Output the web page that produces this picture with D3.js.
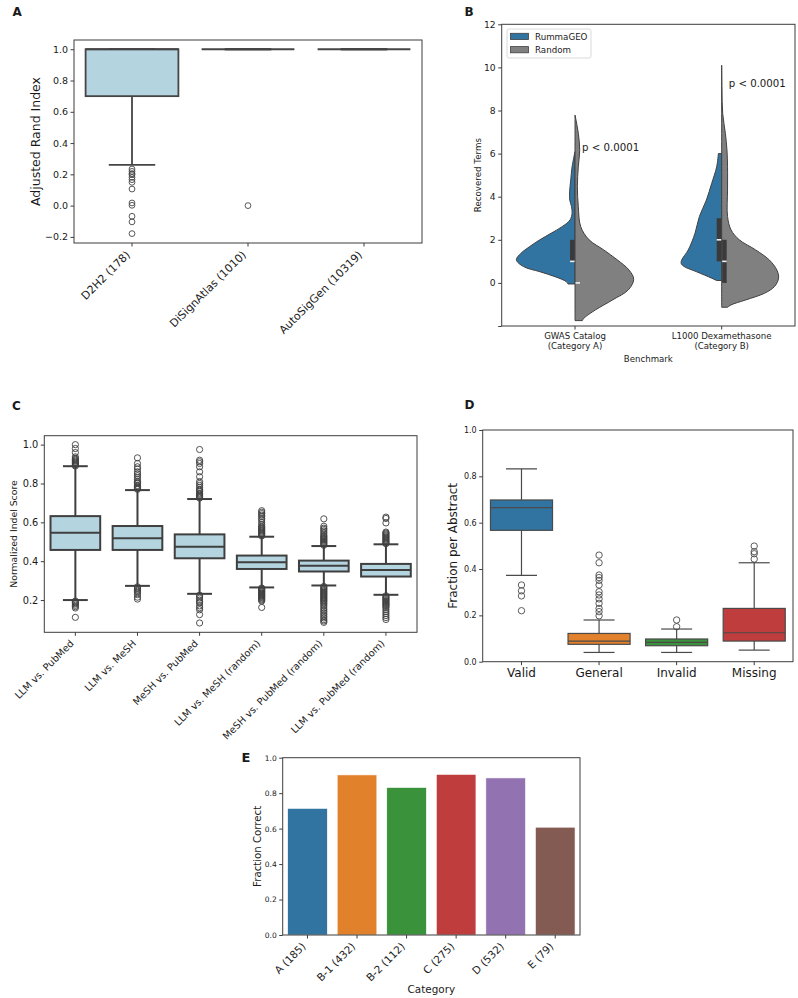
<!DOCTYPE html>
<html><head><meta charset="utf-8">
<script src="https://cdn.jsdelivr.net/npm/d3@7"></script>
<style>
body{margin:0;background:#fff}
svg{display:block}
text{font-family:"DejaVu Sans","Liberation Sans",sans-serif;fill:#1a1a1a}
</style>
</head><body>
<svg id="fig" width="798" height="998"></svg>
<script>
// ================= DATA =================
// Panel A
const aCategories = ["D2H2 (178)", "DiSignAtlas (1010)", "AutoSigGen (10319)"];
const aQ1 = [0.70, 1.0, 1.0];
const aMedian = [1.0, 1.0, 1.0];
const aQ3 = [1.0, 1.0, 1.0];
const aWhiskerLow = [0.26, 1.0, 1.0];
const aWhiskerHigh = [1.0, 1.0, 1.0];
const aOutliers = [[0.234,0.219,0.205,0.198,0.181,0.166,0.149,0.106,0.017,0.002,-0.068,-0.104,-0.179],[0.0],[]];
const aYTicks = [-0.2, 0.0, 0.2, 0.4, 0.6, 0.8, 1.0];

// Panel B
const bBenchmarks = [["GWAS Catalog","(Category A)"], ["L1000 Dexamethasone","(Category B)"]];
const bSeries = ["RummaGEO", "Random"];
// [value, relative density width]
const bGwasRumma = [[6.09,0],[5.39,0.05],[4.77,0.073],[4.31,0.09],[3.85,0.09],[3.54,0.06],[3.23,0.05],[2.92,0.085],[2.61,0.22],[2.3,0.41],[2.0,0.60],[1.69,0.77],[1.38,0.92],[1.07,1.0],[0.76,0.88],[0.52,0.60],[0.29,0.34],[0.06,0.15],[-0.05,0.12]];
const bGwasRandom = [[7.79,0],[6.94,0.056],[6.17,0.08],[5.39,0.056],[4.47,0.04],[3.54,0.056],[2.61,0.097],[2.0,0.24],[1.53,0.49],[1.07,0.72],[0.6,0.92],[0.17,1.0],[-0.32,0.91],[-0.79,0.64],[-1.25,0.35],[-1.64,0.15],[-1.75,0.125]];
const bL1000Rumma = [[6.0,0.056],[5.39,0.085],[4.62,0.17],[3.85,0.26],[3.08,0.38],[2.3,0.455],[1.53,0.57],[1.07,0.68],[0.9,0.69],[0.76,0.64],[0.52,0.43],[0.22,0.17],[0.11,0.085]];
const bL1000Random = [[10.1,0],[9.0,0.004],[7.87,0.017],[6.94,0.063],[6.17,0.09],[5.39,0.1],[4.31,0.1],[3.08,0.1],[2.46,0.16],[2.0,0.30],[1.53,0.58],[1.07,0.81],[0.6,0.94],[0.22,0.97],[-0.17,0.90],[-0.48,0.73],[-0.79,0.41],[-1.02,0.16],[-1.13,0.10]];
const bBoxQ1 = [[1, 0], [1, 0]];
const bBoxMedian = [[1, 0], [2, 1]];
const bBoxQ3 = [[2, 0], [3, 2]];
const bPLabels = ["p < 0.0001", "p < 0.0001"];
const bPLabelValue = [6.12, 9.1];
const bYTicks = [-2, 0, 2, 4, 6, 8, 10, 12];

// Panel C
const cCategories = ["LLM vs. PubMed", "LLM vs. MeSH", "MeSH vs. PubMed", "LLM vs. MeSH (random)", "MeSH vs. PubMed (random)", "LLM vs. PubMed (random)"];
const cQ1 = [0.458, 0.458, 0.415, 0.360, 0.347, 0.321];
const cMedian = [0.547, 0.518, 0.475, 0.395, 0.376, 0.355];
const cQ3 = [0.632, 0.581, 0.538, 0.429, 0.403, 0.386];
const cWhiskerLow = [0.200, 0.273, 0.232, 0.265, 0.275, 0.227];
const cWhiskerHigh = [0.889, 0.766, 0.720, 0.526, 0.478, 0.487];
const cOutliers = [
  [0.89,0.895,0.90,0.905,0.91,0.915,0.92,0.925,0.93,0.937,0.959,0.98,1.0, 0.195,0.19,0.185,0.18,0.173,0.166,0.159,0.111],
  [0.77,0.775,0.78,0.785,0.79,0.80,0.805,0.81,0.82,0.83,0.84,0.85,0.86,0.875,0.886,0.903,0.932, 0.268,0.262,0.256,0.25,0.245,0.237,0.228,0.215,0.205],
  [0.725,0.73,0.735,0.74,0.745,0.75,0.76,0.765,0.77,0.78,0.79,0.80,0.81,0.835,0.86,0.886,0.903,0.912,0.92,0.975, 0.225,0.22,0.21,0.20,0.19,0.185,0.17,0.16,0.15,0.125,0.082],
  [0.53,0.535,0.54,0.545,0.55,0.555,0.56,0.565,0.57,0.575,0.58,0.59,0.60,0.612,0.62,0.63,0.637,0.645,0.652,0.66, 0.262,0.258,0.254,0.25,0.246,0.242,0.238,0.234,0.23,0.226,0.222,0.218,0.214,0.21,0.205,0.20,0.195,0.162],
  [0.482,0.487,0.492,0.497,0.502,0.507,0.512,0.517,0.522,0.527,0.532,0.54,0.548,0.556,0.564,0.57,0.58,0.618, 0.27,0.265,0.26,0.255,0.25,0.245,0.24,0.235,0.23,0.225,0.22,0.215,0.21,0.205,0.20,0.195,0.19,0.183,0.176,0.168,0.159,0.15,0.142,0.133,0.125,0.116,0.108,0.099,0.092,0.085],
  [0.49,0.495,0.50,0.505,0.51,0.515,0.52,0.525,0.53,0.535,0.54,0.545,0.55,0.597,0.62,0.627, 0.222,0.217,0.212,0.207,0.202,0.197,0.192,0.187,0.182,0.177,0.172,0.167,0.16,0.15,0.14,0.13,0.12,0.11,0.10]
];
const cYTicks = [0.2, 0.4, 0.6, 0.8, 1.0];

// Panel D
const dCategories = ["Valid", "General", "Invalid", "Missing"];
const dQ1 = [0.567, 0.075, 0.069, 0.089];
const dMedian = [0.665, 0.089, 0.083, 0.125];
const dQ3 = [0.698, 0.122, 0.098, 0.230];
const dWhiskerLow = [0.373, 0.040, 0.040, 0.050];
const dWhiskerHigh = [0.832, 0.180, 0.141, 0.427];
const dOutliers = [[0.331,0.306,0.284,0.22],[0.46,0.427,0.374,0.363,0.351,0.331,0.302,0.288,0.271,0.252,0.23,0.216,0.198],[0.18,0.151],[0.499,0.475,0.466,0.443]];
const dYTicks = [0.0, 0.2, 0.4, 0.6, 0.8, 1.0];

// Panel E
const eCategories = ["A (185)", "B-1 (432)", "B-2 (112)", "C (275)", "D (532)", "E (79)"];
const eFractionCorrect = [0.714, 0.903, 0.832, 0.906, 0.886, 0.608];
const eYTicks = [0.0, 0.2, 0.4, 0.6, 0.8, 1.0];

const palette = ["#3274a1", "#e1812c", "#3a923a", "#c03d3e", "#9372b2", "#845b53"];
const lightBlue = "#b4d5e0";
const grayViolin = "#808080";

// ================= HELPERS =================
const svg = d3.select("#fig");
const AX = "#3d3d3d";
const fmt1 = d3.format(".1f");

function frame(x0, y0, x1, y1) {
  svg.append("rect").attr("x", x0).attr("y", y0).attr("width", x1 - x0).attr("height", y1 - y0)
    .attr("fill", "none").attr("stroke", AX).attr("stroke-width", 1);
}
function yAxis(scale, ticks, x0, fs, format) {
  const g = svg.append("g").attr("transform", `translate(${x0},0)`)
    .call(d3.axisLeft(scale).tickValues(ticks).tickSize(3.5).tickPadding(2.5).tickFormat(format));
  g.select(".domain").remove();
  g.selectAll(".tick line").attr("stroke", AX);
  g.selectAll(".tick text").style("font-size", fs + "px").attr("fill", "#1a1a1a")
    .style("font-family", '"DejaVu Sans",sans-serif');
  return g;
}
function xAxis(scale, y0, fs, rotated) {
  const g = svg.append("g").attr("transform", `translate(0,${y0})`)
    .call(d3.axisBottom(scale).tickSize(3.5).tickPadding(3.5));
  g.select(".domain").remove();
  g.selectAll(".tick line").attr("stroke", AX);
  const t = g.selectAll(".tick text").style("font-size", fs + "px").attr("fill", "#1a1a1a")
    .style("font-family", '"DejaVu Sans",sans-serif');
  if (rotated) {
    const H = fs * 1.1;
    t.attr("x", 0).attr("y", 0).attr("dy", "0.76em").attr("text-anchor", "end")
      .attr("transform", `translate(${-0.707 * H + 1.5},6.5) rotate(-45)`);
  }
  return g;
}
function yLabel(text, cx, cy, fs) {
  svg.append("text").attr("transform", `translate(${cx},${cy}) rotate(-90)`)
    .attr("text-anchor", "middle").attr("dy", "0.35em").style("font-size", fs + "px").text(text);
}
function panelLabel(text, x, y, fs) {
  svg.append("text").attr("x", x).attr("y", y).style("font-size", fs + "px")
    .style("font-weight", "bold").attr("fill", "#000").text(text);
}
function boxplot(x, y, cats, q1, med, q3, lo, hi, outl, fills, lc, lw, r) {
  const g = svg.append("g");
  const bw = x.bandwidth();
  cats.forEach((c, i) => {
    const cx = x(c) + bw / 2, w = bw * 0.8;
    const fill = Array.isArray(fills) ? fills[i] : fills;
    g.append("line").attr("x1", cx).attr("x2", cx).attr("y1", y(q1[i])).attr("y2", y(lo[i]))
      .attr("stroke", lc).attr("stroke-width", lw);
    g.append("line").attr("x1", cx).attr("x2", cx).attr("y1", y(q3[i])).attr("y2", y(hi[i]))
      .attr("stroke", lc).attr("stroke-width", lw);
    [lo[i], hi[i]].forEach(v => g.append("line").attr("x1", cx - w / 4).attr("x2", cx + w / 4)
      .attr("y1", y(v)).attr("y2", y(v)).attr("stroke", lc).attr("stroke-width", lw));
    g.append("rect").attr("x", cx - w / 2).attr("width", w).attr("y", y(q3[i]))
      .attr("height", Math.max(0, y(q1[i]) - y(q3[i]))).attr("fill", fill)
      .attr("stroke", lc).attr("stroke-width", lw);
    g.append("line").attr("x1", cx - w / 2).attr("x2", cx + w / 2).attr("y1", y(med[i])).attr("y2", y(med[i]))
      .attr("stroke", lc).attr("stroke-width", lw);
    g.selectAll(null).data(outl[i]).enter().append("circle")
      .attr("cx", cx).attr("cy", d => y(d)).attr("r", r)
      .attr("fill", "none").attr("stroke", lc).attr("stroke-width", 0.9);
  });
}

// ================= PANEL A =================
{
  const x0 = 74, x1 = 422, y0 = 40, y1 = 243;
  const x = d3.scaleBand().domain(aCategories).range([x0, x1]);
  const y = d3.scaleLinear().domain([-0.239, 1.059]).range([y1, y0]);
  boxplot(x, y, aCategories, aQ1, aMedian, aQ3, aWhiskerLow, aWhiskerHigh, aOutliers, lightBlue, "#454545", 1.8, 2.9);
  frame(x0, y0, x1, y1);
  yAxis(y, aYTicks, x0, 9.5, fmt1);
  xAxis(x, y1, 11, true);
  yLabel("Adjusted Rand Index", 36, (y0 + y1) / 2, 12.5);
  panelLabel("A", 12.5, 16, 12);
}

// ================= PANEL B =================
{
  const x0 = 501.7, x1 = 795, y0 = 24.3, y1 = 326;
  const keys = bBenchmarks.map(d => d.join(" "));
  const x = d3.scaleBand().domain(keys).range([x0, x1]);
  const y = d3.scaleLinear().domain([-2, 12]).range([y1, y0]);
  const wScale = d3.scaleLinear().domain([0, 1]).range([0, x.bandwidth() * 0.4]);
  const dens = [[bGwasRumma, bGwasRandom], [bL1000Rumma, bL1000Random]];
  const colors = [palette[0], grayViolin];
  const g = svg.append("g");
  keys.forEach((k, bi) => {
    const cx = x(k) + x.bandwidth() / 2;
    [0, 1].forEach(si => {
      const side = si === 0 ? -1 : 1;
      const area = d3.area().curve(d3.curveCatmullRom.alpha(0.5))
        .y(d => y(d[0])).x0(cx).x1(d => cx + side * wScale(d[1]));
      g.append("path").datum(dens[bi][si]).attr("d", area)
        .attr("fill", colors[si]).attr("stroke", "#404040").attr("stroke-width", 1).attr("stroke-linejoin", "round");
    });
    [0, 1].forEach(si => {
      const side = si === 0 ? -1 : 1;
      const bx = side < 0 ? cx - 5 : cx + 0.5;
      const top = y(bBoxQ3[bi][si]), bot = y(bBoxQ1[bi][si]);
      if (bot - top > 0) {
        g.append("rect").attr("x", bx).attr("width", 4.5).attr("y", top).attr("height", bot - top)
          .attr("fill", "#3a3a3a");
      }
      g.append("line").attr("x1", bx).attr("x2", bx + 4.5)
        .attr("y1", y(bBoxMedian[bi][si])).attr("y2", y(bBoxMedian[bi][si]))
        .attr("stroke", "#f0f0f0").attr("stroke-width", 1.6);
    });
    svg.append("text").attr("x", cx + 7).attr("y", y(bPLabelValue[bi]))
      .style("font-size", "10.2px").text(bPLabels[bi]);
  });
  frame(x0, y0, x1, y1);
  yAxis(y, bYTicks, x0, 9.2, d => d === -2 ? "" : d3.format("d")(d));
  const xg = xAxis(x, y1, 8.6, false);
  xg.selectAll(".tick text").each(function (d, i) {
    const t = d3.select(this); t.text(null);
    bBenchmarks[i].forEach((line, li) => t.append("tspan").attr("x", 0).attr("dy", li === 0 ? "0.71em" : "1.2em").text(line));
  });
  svg.append("text").attr("x", (x0 + x1) / 2).attr("y", 361.5).attr("text-anchor", "middle")
    .style("font-size", "8.6px").text("Benchmark");
  yLabel("Recovered Terms", 477.5, (y0 + y1) / 2, 8.7);
  // legend
  const lg = svg.append("g");
  lg.append("rect").attr("x", 507).attr("y", 29).attr("width", 84).attr("height", 29).attr("rx", 2)
    .attr("fill", "#fff").attr("fill-opacity", 0.8).attr("stroke", "#d0d0d0").attr("stroke-width", 0.8);
  bSeries.forEach((s, i) => {
    lg.append("rect").attr("x", 510.5).attr("y", 33.3 + i * 13.3).attr("width", 18).attr("height", 6.2)
      .attr("fill", colors[i]).attr("stroke", "#404040").attr("stroke-width", 0.8);
    lg.append("text").attr("x", 535).attr("y", 39.6 + i * 13.3).style("font-size", "8.7px").text(s);
  });
  panelLabel("B", 464.5, 16, 12);
}

// ================= PANEL C =================
{
  const x0 = 44.3, x1 = 417, y0 = 435.7, y1 = 632.3;
  const x = d3.scaleBand().domain(cCategories).range([x0, x1]);
  const y = d3.scaleLinear().domain([0.034, 1.046]).range([y1, y0]);
  boxplot(x, y, cCategories, cQ1, cMedian, cQ3, cWhiskerLow, cWhiskerHigh, cOutliers, lightBlue, "#3f3f3f", 2, 3.1);
  frame(x0, y0, x1, y1);
  yAxis(y, cYTicks, x0, 9.8, fmt1);
  xAxis(x, y1, 9.8, true);
  yLabel("Normalized Indel Score", 14, (y0 + y1) / 2, 9.3);
  panelLabel("C", 12, 410, 12);
}

// ================= PANEL D =================
{
  const x0 = 482.7, x1 = 793, y0 = 430, y1 = 661.7;
  const x = d3.scaleBand().domain(dCategories).range([x0, x1]);
  const y = d3.scaleLinear().domain([0, 1]).range([y1, y0]);
  boxplot(x, y, dCategories, dQ1, dMedian, dQ3, dWhiskerLow, dWhiskerHigh, dOutliers, palette.slice(0, 4), "#4a4a4a", 1.2, 3.2);
  frame(x0, y0, x1, y1);
  yAxis(y, dYTicks, x0, 8, fmt1);
  xAxis(x, y1, 12, false);
  yLabel("Fraction per Abstract", 452.5, (y0 + y1) / 2, 12);
  panelLabel("D", 464.5, 409, 12);
}

// ================= PANEL E =================
{
  const x0 = 282.7, x1 = 580, y0 = 757.7, y1 = 935;
  const x = d3.scaleBand().domain(eCategories).range([x0, x1]);
  const y = d3.scaleLinear().domain([0, 1]).range([y1, y0]);
  const bw = x.bandwidth();
  svg.append("g").selectAll("rect").data(eCategories).enter().append("rect")
    .attr("x", d => x(d) + bw * 0.1).attr("width", bw * 0.8)
    .attr("y", (d, i) => y(eFractionCorrect[i])).attr("height", (d, i) => y1 - y(eFractionCorrect[i]))
    .attr("fill", (d, i) => palette[i]).attr("stroke", "#fff").attr("stroke-width", 0.6);
  frame(x0, y0, x1, y1);
  yAxis(y, eYTicks, x0, 7.5, fmt1);
  xAxis(x, y1, 10.5, true);
  yLabel("Fraction Correct", 257.7, (y0 + y1) / 2, 10.2);
  svg.append("text").attr("x", (x0 + x1) / 2).attr("y", 993).attr("text-anchor", "middle")
    .style("font-size", "10.4px").text("Category");
  panelLabel("E", 241.5, 761.5, 13);
}
</script>
</body></html>
